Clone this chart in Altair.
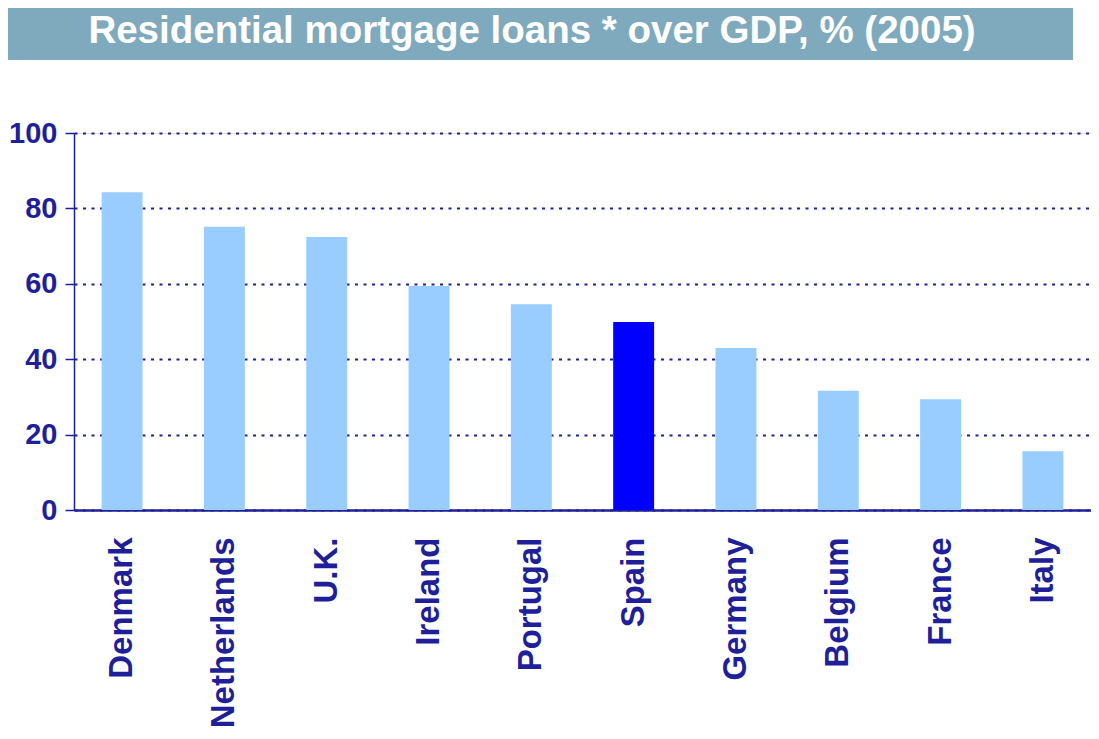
import altair as alt
import pandas as pd

countries = ["Denmark", "Netherlands", "U.K.", "Ireland", "Portugal", "Spain",
             "Germany", "Belgium", "France", "Italy"]
values = [84.3, 75.1, 72.4, 59.4, 54.6, 49.9, 43.0, 31.6, 29.4, 15.6]
title_text = "Residential mortgage loans * over GDP, % (2005)"

NAVY = "#1F1F9A"
FONT = "Liberation Sans"

df = pd.DataFrame({"country": countries, "value": values})

bars = alt.Chart(df).mark_bar().encode(
    x=alt.X("country:N", sort=countries, title=None,
            scale=alt.Scale(paddingInner=0.6, paddingOuter=0.27),
            axis=alt.Axis(labelAngle=-90, labelAlign="right", labelBaseline="middle",
                          labelFontSize=33, labelFontWeight="bold", labelColor=NAVY,
                          labelFont=FONT, ticks=False, labelPadding=27, labelLimit=0,
                          domainColor=NAVY, domainWidth=2.5, grid=False)),
    y=alt.Y("value:Q", title=None,
            scale=alt.Scale(domain=[0, 100], nice=False),
            axis=alt.Axis(values=[0, 20, 40, 60, 80, 100], labelFontSize=29,
                          labelFontWeight="bold", labelColor=NAVY, labelFont=FONT,
                          tickSize=9, tickColor=NAVY, tickWidth=1.5, labelPadding=8,
                          domainColor=NAVY, domainWidth=1.5,
                          grid=True, gridColor=NAVY, gridWidth=2,
                          gridDash=[3, 5.5])),
    color=alt.condition(alt.datum.country == "Spain",
                        alt.value("#0000FF"), alt.value("#99CCFF")),
)

banner_df = pd.DataFrame({"t": [title_text]})
banner = alt.Chart(banner_df).mark_rect(color="#7FA9BC").encode(
    x=alt.value(-66), x2=alt.value(999), y=alt.value(-125), y2=alt.value(-73)
)
title = alt.Chart(banner_df).mark_text(
    color="white", fontSize=38.5, fontWeight="bold", font=FONT,
    align="center", baseline="alphabetic"
).encode(x=alt.value(458), y=alt.value(-90), text="t:N")

chart = alt.layer(bars, banner, title).properties(
    width=1017, height=377,
    autosize=alt.AutoSizeParams(type="none"),
    padding={"left": 66, "top": 125, "right": 0, "bottom": 221},
).configure_view(stroke=None).configure(background="white")

chart.save("out.html", embed_options={"renderer": "svg", "actions": False})
